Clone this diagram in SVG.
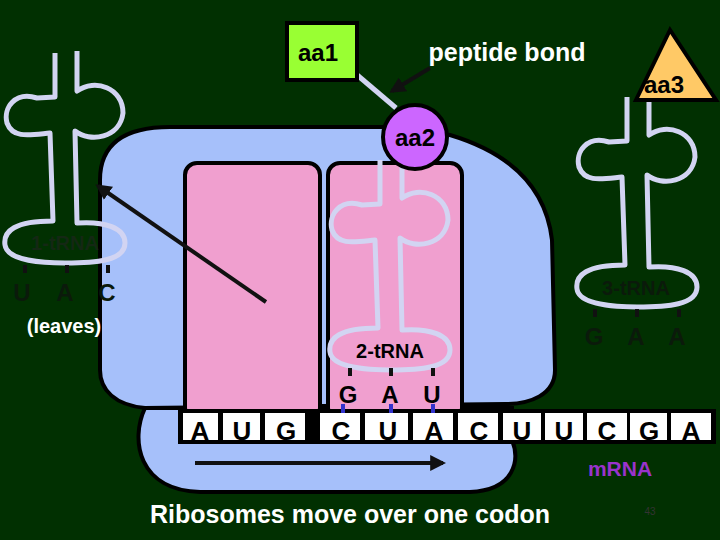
<svg xmlns="http://www.w3.org/2000/svg" width="720" height="540" viewBox="0 0 720 540">
<style>
.t{font-family:"Liberation Sans",Arial,sans-serif;font-weight:bold}
.trna{fill:none;stroke:#d2d4f2;stroke-width:5;stroke-linejoin:round}
.tick{stroke:#111;stroke-width:4}
.btick{stroke:#3333cc;stroke-width:4}
.cell{fill:#fff}
</style>
<defs>
<path id="tr" class="trna" d="M-10,-190 L-10,-146 L-28,-145 C-50,-152 -62,-135 -58,-120 C-52,-104 -35,-108 -15,-110 L-12,-22 C-50,-22 -62,-12 -60,2 C-58,18 -20,20 0,20 C30,20 60,18 60,0 C60,-15 40,-22 12,-20 L10,-112 C25,-100 55,-105 58,-130 C58,-155 30,-165 12,-152 L12,-192"/>
<marker id="ah" viewBox="0 0 10 10" refX="8" refY="5" markerWidth="4" markerHeight="4" orient="auto"><path d="M0,0 L10,5 L0,10 Z" fill="#111"/></marker>
</defs>
<rect width="720" height="540" fill="#013001"/>
<g id="ribosome">
<path d="M145,408 C130,440 138,490 200,492 L470,492 C515,490 520,460 512,440 L512,408 Z" fill="#a6c0fa" stroke="#000" stroke-width="4"/>
<path d="M100,180 C100,140 130,127 170,127 L385,127 L450,135 C500,150 545,180 552,240 L555,370 C555,395 530,404 505,404 L145,408 C115,405 100,390 100,370 Z" fill="#a6c0fa" stroke="#000" stroke-width="4"/>
<rect x="185" y="163" width="135" height="257" rx="12" fill="#f09fcf" stroke="#000" stroke-width="4"/>
<rect x="328" y="163" width="134" height="257" rx="12" fill="#f09fcf" stroke="#000" stroke-width="4"/>
</g>
<g id="mrna">
<rect x="178" y="409" width="538" height="35" fill="#000"/>
<rect class="cell" x="183" y="413" width="35" height="27"/>
<rect class="cell" x="223" y="413" width="37" height="27"/>
<rect class="cell" x="265" y="413" width="40" height="27"/>
<rect class="cell" x="320" y="413" width="40" height="27"/>
<rect class="cell" x="365" y="413" width="43" height="27"/>
<rect class="cell" x="413" y="413" width="40" height="27"/>
<rect class="cell" x="458" y="413" width="40" height="27"/>
<rect class="cell" x="503" y="413" width="38" height="27"/>
<rect class="cell" x="545" y="413" width="38" height="27"/>
<rect class="cell" x="587" y="413" width="40" height="27"/>
<rect class="cell" x="630" y="413" width="37" height="27"/>
<rect class="cell" x="671" y="413" width="40" height="27"/>
<g class="t" font-size="26" fill="#000" text-anchor="middle">
<text x="200" y="440">A</text><text x="242" y="440">U</text><text x="286" y="440">G</text>
<text x="341" y="440">C</text><text x="388" y="440">U</text><text x="434" y="440">A</text>
<text x="479" y="440">C</text><text x="522" y="440">U</text><text x="564" y="440">U</text>
<text x="607" y="440">C</text><text x="649" y="440">G</text><text x="691" y="440">A</text>
</g>
</g>
<g id="trna1">
<use href="#tr" transform="translate(65,243)"/>
<text class="t" x="65" y="250" font-size="20" fill="#142814" text-anchor="middle">1-tRNA</text>
<line class="tick" x1="25" y1="265" x2="25" y2="273"/><line class="tick" x1="67" y1="265" x2="67" y2="273"/><line class="tick" x1="108" y1="265" x2="108" y2="273"/>
<g class="t" font-size="24" fill="#0b1a0b" text-anchor="middle"><text x="22" y="301">U</text><text x="65" y="301">A</text><text x="107" y="301">C</text></g>
<text class="t" x="64" y="333" font-size="20" fill="#fff" text-anchor="middle">(leaves)</text>
</g>
<g id="trna2">
<use href="#tr" transform="translate(390,350)"/>
<text class="t" x="390" y="358" font-size="20" fill="#000" text-anchor="middle">2-tRNA</text>
<line class="tick" x1="350" y1="368" x2="350" y2="376"/><line class="tick" x1="391" y1="368" x2="391" y2="376"/><line class="tick" x1="433" y1="368" x2="433" y2="376"/>
<g class="t" font-size="24" fill="#000" text-anchor="middle"><text x="348" y="403">G</text><text x="390" y="403">A</text><text x="432" y="403">U</text></g>
<line class="btick" x1="343" y1="404" x2="343" y2="413"/><line class="btick" x1="391" y1="404" x2="391" y2="413"/><line class="btick" x1="433" y1="404" x2="433" y2="413"/>
</g>
<g id="trna3">
<use href="#tr" transform="translate(637,287)"/>
<text class="t" x="636" y="295" font-size="20" fill="#0b1a0b" text-anchor="middle">3-tRNA</text>
<line class="tick" x1="595" y1="309" x2="595" y2="317"/><line class="tick" x1="637" y1="309" x2="637" y2="317"/><line class="tick" x1="679" y1="309" x2="679" y2="317"/>
<g class="t" font-size="24" fill="#0b1a0b" text-anchor="middle"><text x="594" y="345">G</text><text x="636" y="345">A</text><text x="677" y="345">A</text></g>
</g>
<g id="aa3">
<polygon points="670,30 636,100 716,100" fill="#ffc966" stroke="#000" stroke-width="4"/>
<text class="t" x="664" y="93" font-size="24" fill="#000" text-anchor="middle">aa3</text>
</g>
<g id="aa1">
<line x1="356" y1="74" x2="396" y2="108" stroke="#d2d4f2" stroke-width="5"/>
<rect x="287" y="23" width="70" height="57" fill="#9f3" stroke="#000" stroke-width="4"/>
<text class="t" x="318" y="61" font-size="24" fill="#000" text-anchor="middle">aa1</text>
</g>
<g id="aa2">
<circle cx="415" cy="137" r="32" fill="#cc66ff" stroke="#000" stroke-width="4"/>
<text class="t" x="415" y="146" font-size="24" fill="#000" text-anchor="middle">aa2</text>
</g>
<text class="t" x="507" y="61" font-size="25" fill="#fff" text-anchor="middle">peptide bond</text>
<g id="connectors" stroke="#111" stroke-width="4" fill="none" marker-end="url(#ah)">
<line x1="430" y1="68" x2="392" y2="91"/>
<line x1="266" y1="302" x2="98" y2="186"/>
<line x1="195" y1="463" x2="443" y2="463"/>
</g>
<text class="t" x="620" y="476" font-size="21" fill="#9933cc" text-anchor="middle">mRNA</text>
<text class="t" x="350" y="523" font-size="25" fill="#fff" text-anchor="middle">Ribosomes move over one codon</text>
<text x="650" y="515" font-family="Liberation Sans,sans-serif" font-size="10" fill="#333" text-anchor="middle">43</text>
</svg>
